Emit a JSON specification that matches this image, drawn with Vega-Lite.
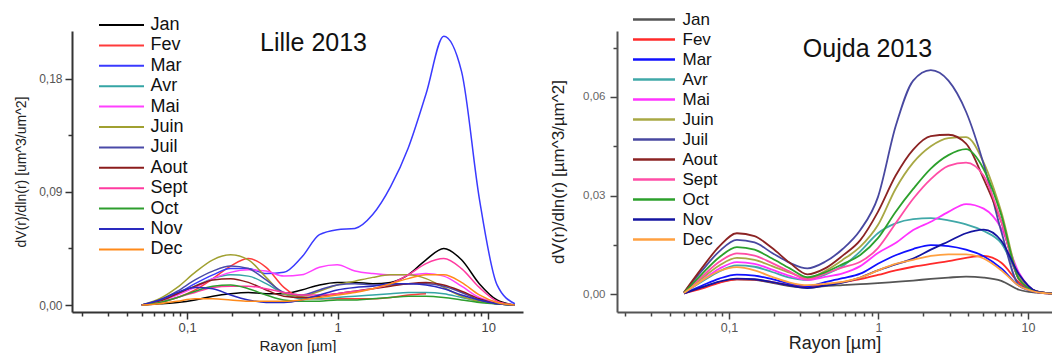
{
"$schema": "https://vega.github.io/schema/vega-lite/v6.json",
"background": "white",
"padding": {"left": 14, "top": 11, "right": 0, "bottom": 0},
"bounds": "flush",
"spacing": 94,
"config": {"view": {"stroke": null}, "font": "Liberation Sans"},
"resolve": {"scale": {"color": "independent"}, "legend": {"color": "independent"}},
"datasets": {
"lille": [
{"m":"Jan","r":0.05,"v":0},{"m":"Jan","r":0.0656,"v":0.001},{"m":"Jan","r":0.0861,"v":0.002},{"m":"Jan","r":0.1129,"v":0.004},{"m":"Jan","r":0.1482,"v":0.007},{"m":"Jan","r":0.1944,"v":0.009},{"m":"Jan","r":0.2551,"v":0.010},{"m":"Jan","r":0.3347,"v":0.009},{"m":"Jan","r":0.4392,"v":0.009},{"m":"Jan","r":0.5762,"v":0.012},{"m":"Jan","r":0.7561,"v":0.016},{"m":"Jan","r":0.992,"v":0.018},{"m":"Jan","r":1.3016,"v":0.018},{"m":"Jan","r":1.7078,"v":0.017},{"m":"Jan","r":2.2407,"v":0.018},{"m":"Jan","r":2.94,"v":0.024},{"m":"Jan","r":3.8575,"v":0.036},{"m":"Jan","r":5.0613,"v":0.045},{"m":"Jan","r":6.6407,"v":0.036},{"m":"Jan","r":8.7131,"v":0.017},{"m":"Jan","r":11.4323,"v":0.004},{"m":"Jan","r":15,"v":0},
{"m":"Fev","r":0.05,"v":0},{"m":"Fev","r":0.0656,"v":0.002},{"m":"Fev","r":0.0861,"v":0.006},{"m":"Fev","r":0.1129,"v":0.012},{"m":"Fev","r":0.1482,"v":0.021},{"m":"Fev","r":0.1944,"v":0.031},{"m":"Fev","r":0.2551,"v":0.037},{"m":"Fev","r":0.3347,"v":0.030},{"m":"Fev","r":0.4392,"v":0.014},{"m":"Fev","r":0.5762,"v":0.006},{"m":"Fev","r":0.7561,"v":0.005},{"m":"Fev","r":0.992,"v":0.005},{"m":"Fev","r":1.3016,"v":0.005},{"m":"Fev","r":1.7078,"v":0.005},{"m":"Fev","r":2.2407,"v":0.006},{"m":"Fev","r":2.94,"v":0.008},{"m":"Fev","r":3.8575,"v":0.009},
{"m":"Mar","r":0.05,"v":0},{"m":"Mar","r":0.0656,"v":0.003},{"m":"Mar","r":0.0861,"v":0.009},{"m":"Mar","r":0.1129,"v":0.017},{"m":"Mar","r":0.1482,"v":0.024},{"m":"Mar","r":0.1944,"v":0.029},{"m":"Mar","r":0.2551,"v":0.029},{"m":"Mar","r":0.3347,"v":0.025},{"m":"Mar","r":0.4392,"v":0.026},{"m":"Mar","r":0.5762,"v":0.038},{"m":"Mar","r":0.7561,"v":0.056},{"m":"Mar","r":0.992,"v":0.060},{"m":"Mar","r":1.3016,"v":0.061},{"m":"Mar","r":1.7078,"v":0.072},{"m":"Mar","r":2.2407,"v":0.094},{"m":"Mar","r":2.94,"v":0.125},{"m":"Mar","r":3.8575,"v":0.168},{"m":"Mar","r":5.0613,"v":0.214},{"m":"Mar","r":6.6407,"v":0.186},{"m":"Mar","r":8.7131,"v":0.085},{"m":"Mar","r":11.4323,"v":0.016},{"m":"Mar","r":15,"v":0.001},
{"m":"Avr","r":0.05,"v":0},{"m":"Avr","r":0.0656,"v":0.003},{"m":"Avr","r":0.0861,"v":0.009},{"m":"Avr","r":0.1129,"v":0.015},{"m":"Avr","r":0.1482,"v":0.021},{"m":"Avr","r":0.1944,"v":0.024},{"m":"Avr","r":0.2551,"v":0.023},{"m":"Avr","r":0.3347,"v":0.017},{"m":"Avr","r":0.4392,"v":0.009},{"m":"Avr","r":0.5762,"v":0.005},{"m":"Avr","r":0.7561,"v":0.005},{"m":"Avr","r":0.992,"v":0.006},{"m":"Avr","r":1.3016,"v":0.007},{"m":"Avr","r":1.7078,"v":0.008},{"m":"Avr","r":2.2407,"v":0.009},{"m":"Avr","r":2.94,"v":0.010},{"m":"Avr","r":3.8575,"v":0.010},{"m":"Avr","r":5.0613,"v":0.009},{"m":"Avr","r":6.6407,"v":0.006},{"m":"Avr","r":8.7131,"v":0.003},{"m":"Avr","r":11.4323,"v":0.001},{"m":"Avr","r":15,"v":0},
{"m":"Mai","r":0.05,"v":0},{"m":"Mai","r":0.0656,"v":0.003},{"m":"Mai","r":0.0861,"v":0.008},{"m":"Mai","r":0.1129,"v":0.014},{"m":"Mai","r":0.1482,"v":0.021},{"m":"Mai","r":0.1944,"v":0.026},{"m":"Mai","r":0.2551,"v":0.028},{"m":"Mai","r":0.3347,"v":0.027},{"m":"Mai","r":0.4392,"v":0.023},{"m":"Mai","r":0.5762,"v":0.024},{"m":"Mai","r":0.7561,"v":0.030},{"m":"Mai","r":0.992,"v":0.032},{"m":"Mai","r":1.3016,"v":0.027},{"m":"Mai","r":1.7078,"v":0.025},{"m":"Mai","r":2.2407,"v":0.024},{"m":"Mai","r":2.94,"v":0.024},{"m":"Mai","r":3.8575,"v":0.025},{"m":"Mai","r":5.0613,"v":0.023},{"m":"Mai","r":6.6407,"v":0.015},{"m":"Mai","r":8.7131,"v":0.006},{"m":"Mai","r":11.4323,"v":0.002},{"m":"Mai","r":15,"v":0},
{"m":"Juin","r":0.05,"v":0},{"m":"Juin","r":0.0656,"v":0.005},{"m":"Juin","r":0.0861,"v":0.014},{"m":"Juin","r":0.1129,"v":0.026},{"m":"Juin","r":0.1482,"v":0.036},{"m":"Juin","r":0.1944,"v":0.040},{"m":"Juin","r":0.2551,"v":0.036},{"m":"Juin","r":0.3347,"v":0.022},{"m":"Juin","r":0.4392,"v":0.009},{"m":"Juin","r":0.5762,"v":0.007},{"m":"Juin","r":0.7561,"v":0.011},{"m":"Juin","r":0.992,"v":0.016},{"m":"Juin","r":1.3016,"v":0.019},{"m":"Juin","r":1.7078,"v":0.022},{"m":"Juin","r":2.2407,"v":0.024},{"m":"Juin","r":2.94,"v":0.024},{"m":"Juin","r":3.8575,"v":0.021},{"m":"Juin","r":5.0613,"v":0.014},{"m":"Juin","r":6.6407,"v":0.007},{"m":"Juin","r":8.7131,"v":0.003},{"m":"Juin","r":11.4323,"v":0.001},{"m":"Juin","r":15,"v":0},
{"m":"Juil","r":0.05,"v":0},{"m":"Juil","r":0.0656,"v":0.004},{"m":"Juil","r":0.0861,"v":0.011},{"m":"Juil","r":0.1129,"v":0.020},{"m":"Juil","r":0.1482,"v":0.027},{"m":"Juil","r":0.1944,"v":0.031},{"m":"Juil","r":0.2551,"v":0.029},{"m":"Juil","r":0.3347,"v":0.020},{"m":"Juil","r":0.4392,"v":0.010},{"m":"Juil","r":0.5762,"v":0.008},{"m":"Juil","r":0.7561,"v":0.012},{"m":"Juil","r":0.992,"v":0.016},{"m":"Juil","r":1.3016,"v":0.017},{"m":"Juil","r":1.7078,"v":0.016},{"m":"Juil","r":2.2407,"v":0.016},{"m":"Juil","r":2.94,"v":0.017},{"m":"Juil","r":3.8575,"v":0.017},{"m":"Juil","r":5.0613,"v":0.015},{"m":"Juil","r":6.6407,"v":0.010},{"m":"Juil","r":8.7131,"v":0.004},{"m":"Juil","r":11.4323,"v":0.001},{"m":"Juil","r":15,"v":0},
{"m":"Aout","r":0.05,"v":0},{"m":"Aout","r":0.0656,"v":0.003},{"m":"Aout","r":0.0861,"v":0.009},{"m":"Aout","r":0.1129,"v":0.015},{"m":"Aout","r":0.1482,"v":0.020},{"m":"Aout","r":0.1944,"v":0.021},{"m":"Aout","r":0.2551,"v":0.018},{"m":"Aout","r":0.3347,"v":0.012},{"m":"Aout","r":0.4392,"v":0.007},{"m":"Aout","r":0.5762,"v":0.006},{"m":"Aout","r":0.7561,"v":0.007},{"m":"Aout","r":0.992,"v":0.009},{"m":"Aout","r":1.3016,"v":0.011},{"m":"Aout","r":1.7078,"v":0.013},{"m":"Aout","r":2.2407,"v":0.015},{"m":"Aout","r":2.94,"v":0.017},{"m":"Aout","r":3.8575,"v":0.018},{"m":"Aout","r":5.0613,"v":0.016},{"m":"Aout","r":6.6407,"v":0.011},{"m":"Aout","r":8.7131,"v":0.005},{"m":"Aout","r":11.4323,"v":0.001},{"m":"Aout","r":15,"v":0},
{"m":"Sept","r":0.05,"v":0},{"m":"Sept","r":0.0656,"v":0.002},{"m":"Sept","r":0.0861,"v":0.006},{"m":"Sept","r":0.1129,"v":0.010},{"m":"Sept","r":0.1482,"v":0.014},{"m":"Sept","r":0.1944,"v":0.015},{"m":"Sept","r":0.2551,"v":0.015},{"m":"Sept","r":0.3347,"v":0.013},{"m":"Sept","r":0.4392,"v":0.010},{"m":"Sept","r":0.5762,"v":0.008},{"m":"Sept","r":0.7561,"v":0.008},{"m":"Sept","r":0.992,"v":0.009},{"m":"Sept","r":1.3016,"v":0.011},{"m":"Sept","r":1.7078,"v":0.013},{"m":"Sept","r":2.2407,"v":0.017},{"m":"Sept","r":2.94,"v":0.024},{"m":"Sept","r":3.8575,"v":0.033},{"m":"Sept","r":5.0613,"v":0.037},{"m":"Sept","r":6.6407,"v":0.029},{"m":"Sept","r":8.7131,"v":0.014},{"m":"Sept","r":11.4323,"v":0.003},{"m":"Sept","r":15,"v":0},
{"m":"Oct","r":0.05,"v":0},{"m":"Oct","r":0.0656,"v":0.002},{"m":"Oct","r":0.0861,"v":0.006},{"m":"Oct","r":0.1129,"v":0.011},{"m":"Oct","r":0.1482,"v":0.015},{"m":"Oct","r":0.1944,"v":0.016},{"m":"Oct","r":0.2551,"v":0.013},{"m":"Oct","r":0.3347,"v":0.008},{"m":"Oct","r":0.4392,"v":0.004},{"m":"Oct","r":0.5762,"v":0.003},{"m":"Oct","r":0.7561,"v":0.003},{"m":"Oct","r":0.992,"v":0.004},{"m":"Oct","r":1.3016,"v":0.004},{"m":"Oct","r":1.7078,"v":0.005},{"m":"Oct","r":2.2407,"v":0.006},{"m":"Oct","r":2.94,"v":0.007},{"m":"Oct","r":3.8575,"v":0.007},{"m":"Oct","r":5.0613,"v":0.006},{"m":"Oct","r":6.6407,"v":0.004},{"m":"Oct","r":8.7131,"v":0.002},{"m":"Oct","r":11.4323,"v":0.001},{"m":"Oct","r":15,"v":0},
{"m":"Nov","r":0.05,"v":0},{"m":"Nov","r":0.0656,"v":0.004},{"m":"Nov","r":0.0861,"v":0.010},{"m":"Nov","r":0.1129,"v":0.014},{"m":"Nov","r":0.1482,"v":0.013},{"m":"Nov","r":0.1944,"v":0.008},{"m":"Nov","r":0.2551,"v":0.004},{"m":"Nov","r":0.3347,"v":0.002},{"m":"Nov","r":0.4392,"v":0.002},{"m":"Nov","r":0.5762,"v":0.004},{"m":"Nov","r":0.7561,"v":0.008},{"m":"Nov","r":0.992,"v":0.012},{"m":"Nov","r":1.3016,"v":0.014},{"m":"Nov","r":1.7078,"v":0.015},{"m":"Nov","r":2.2407,"v":0.017},{"m":"Nov","r":2.94,"v":0.017},{"m":"Nov","r":3.8575,"v":0.016},{"m":"Nov","r":5.0613,"v":0.013},{"m":"Nov","r":6.6407,"v":0.008},{"m":"Nov","r":8.7131,"v":0.004},{"m":"Nov","r":11.4323,"v":0.001},{"m":"Nov","r":15,"v":0},
{"m":"Dec","r":0.05,"v":0},{"m":"Dec","r":0.0656,"v":0.001},{"m":"Dec","r":0.0861,"v":0.003},{"m":"Dec","r":0.1129,"v":0.005},{"m":"Dec","r":0.1482,"v":0.005},{"m":"Dec","r":0.1944,"v":0.004},{"m":"Dec","r":0.2551,"v":0.003},{"m":"Dec","r":0.3347,"v":0.003},{"m":"Dec","r":0.4392,"v":0.003},{"m":"Dec","r":0.5762,"v":0.004},{"m":"Dec","r":0.7561,"v":0.006},{"m":"Dec","r":0.992,"v":0.008},{"m":"Dec","r":1.3016,"v":0.010},{"m":"Dec","r":1.7078,"v":0.013},{"m":"Dec","r":2.2407,"v":0.017},{"m":"Dec","r":2.94,"v":0.021},{"m":"Dec","r":3.8575,"v":0.024},{"m":"Dec","r":5.0613,"v":0.024},{"m":"Dec","r":6.6407,"v":0.018},{"m":"Dec","r":8.7131,"v":0.008},{"m":"Dec","r":11.4323,"v":0.002},{"m":"Dec","r":15,"v":0}
],
"oujda": [
{"m":"Jan","r":0.05,"v":0.0002},{"m":"Jan","r":0.0656,"v":0.002},{"m":"Jan","r":0.0861,"v":0.0036},{"m":"Jan","r":0.1129,"v":0.0045},{"m":"Jan","r":0.1482,"v":0.0043},{"m":"Jan","r":0.1944,"v":0.0034},{"m":"Jan","r":0.2551,"v":0.0024},{"m":"Jan","r":0.3347,"v":0.0019},{"m":"Jan","r":0.4392,"v":0.0024},{"m":"Jan","r":0.5762,"v":0.0027},{"m":"Jan","r":0.7561,"v":0.003},{"m":"Jan","r":0.992,"v":0.0033},{"m":"Jan","r":1.3016,"v":0.0037},{"m":"Jan","r":1.7078,"v":0.0041},{"m":"Jan","r":2.2407,"v":0.0046},{"m":"Jan","r":2.94,"v":0.005},{"m":"Jan","r":3.8575,"v":0.0053},{"m":"Jan","r":5.0613,"v":0.005},{"m":"Jan","r":6.6407,"v":0.004},{"m":"Jan","r":8.7131,"v":0.0013},{"m":"Jan","r":11.4323,"v":0.0004},{"m":"Jan","r":15,"v":0.0001},
{"m":"Fev","r":0.05,"v":0.0002},{"m":"Fev","r":0.0656,"v":0.0016},{"m":"Fev","r":0.0861,"v":0.0034},{"m":"Fev","r":0.1129,"v":0.0045},{"m":"Fev","r":0.1482,"v":0.0044},{"m":"Fev","r":0.1944,"v":0.0036},{"m":"Fev","r":0.2551,"v":0.0027},{"m":"Fev","r":0.3347,"v":0.0022},{"m":"Fev","r":0.4392,"v":0.0028},{"m":"Fev","r":0.5762,"v":0.0036},{"m":"Fev","r":0.7561,"v":0.0045},{"m":"Fev","r":0.992,"v":0.0058},{"m":"Fev","r":1.3016,"v":0.0072},{"m":"Fev","r":1.7078,"v":0.0083},{"m":"Fev","r":2.2407,"v":0.0092},{"m":"Fev","r":2.94,"v":0.01},{"m":"Fev","r":3.8575,"v":0.011},{"m":"Fev","r":5.0613,"v":0.0116},{"m":"Fev","r":6.6407,"v":0.0095},{"m":"Fev","r":8.7131,"v":0.0035},{"m":"Fev","r":11.4323,"v":0.0006},{"m":"Fev","r":15,"v":0.0001},
{"m":"Mar","r":0.05,"v":0.0002},{"m":"Mar","r":0.0656,"v":0.0025},{"m":"Mar","r":0.0861,"v":0.0047},{"m":"Mar","r":0.1129,"v":0.0059},{"m":"Mar","r":0.1482,"v":0.0056},{"m":"Mar","r":0.1944,"v":0.0045},{"m":"Mar","r":0.2551,"v":0.0032},{"m":"Mar","r":0.3347,"v":0.0024},{"m":"Mar","r":0.4392,"v":0.0036},{"m":"Mar","r":0.5762,"v":0.0048},{"m":"Mar","r":0.7561,"v":0.0062},{"m":"Mar","r":0.992,"v":0.0092},{"m":"Mar","r":1.3016,"v":0.0118},{"m":"Mar","r":1.7078,"v":0.0137},{"m":"Mar","r":2.2407,"v":0.0149},{"m":"Mar","r":2.94,"v":0.0146},{"m":"Mar","r":3.8575,"v":0.0135},{"m":"Mar","r":5.0613,"v":0.0115},{"m":"Mar","r":6.6407,"v":0.0078},{"m":"Mar","r":8.7131,"v":0.0025},{"m":"Mar","r":11.4323,"v":0.0006},{"m":"Mar","r":15,"v":0.0001},
{"m":"Avr","r":0.05,"v":0.0003},{"m":"Avr","r":0.0656,"v":0.0037},{"m":"Avr","r":0.0861,"v":0.0069},{"m":"Avr","r":0.1129,"v":0.0087},{"m":"Avr","r":0.1482,"v":0.0083},{"m":"Avr","r":0.1944,"v":0.0067},{"m":"Avr","r":0.2551,"v":0.005},{"m":"Avr","r":0.3347,"v":0.0043},{"m":"Avr","r":0.4392,"v":0.0059},{"m":"Avr","r":0.5762,"v":0.0085},{"m":"Avr","r":0.7561,"v":0.013},{"m":"Avr","r":0.992,"v":0.0185},{"m":"Avr","r":1.3016,"v":0.0215},{"m":"Avr","r":1.7078,"v":0.0228},{"m":"Avr","r":2.2407,"v":0.0231},{"m":"Avr","r":2.94,"v":0.0224},{"m":"Avr","r":3.8575,"v":0.0212},{"m":"Avr","r":5.0613,"v":0.0192},{"m":"Avr","r":6.6407,"v":0.0155},{"m":"Avr","r":8.7131,"v":0.0053},{"m":"Avr","r":11.4323,"v":0.0008},{"m":"Avr","r":15,"v":0.0001},
{"m":"Mai","r":0.05,"v":0.0003},{"m":"Mai","r":0.0656,"v":0.0041},{"m":"Mai","r":0.0861,"v":0.0077},{"m":"Mai","r":0.1129,"v":0.0097},{"m":"Mai","r":0.1482,"v":0.0092},{"m":"Mai","r":0.1944,"v":0.0074},{"m":"Mai","r":0.2551,"v":0.0055},{"m":"Mai","r":0.3347,"v":0.0043},{"m":"Mai","r":0.4392,"v":0.0052},{"m":"Mai","r":0.5762,"v":0.0063},{"m":"Mai","r":0.7561,"v":0.0085},{"m":"Mai","r":0.992,"v":0.0125},{"m":"Mai","r":1.3016,"v":0.0155},{"m":"Mai","r":1.7078,"v":0.0195},{"m":"Mai","r":2.2407,"v":0.022},{"m":"Mai","r":2.94,"v":0.025},{"m":"Mai","r":3.8575,"v":0.0274},{"m":"Mai","r":5.0613,"v":0.026},{"m":"Mai","r":6.6407,"v":0.02},{"m":"Mai","r":8.7131,"v":0.0065},{"m":"Mai","r":11.4323,"v":0.0008},{"m":"Mai","r":15,"v":0.0001},
{"m":"Juin","r":0.05,"v":0.0004},{"m":"Juin","r":0.0656,"v":0.0047},{"m":"Juin","r":0.0861,"v":0.0087},{"m":"Juin","r":0.1129,"v":0.011},{"m":"Juin","r":0.1482,"v":0.0104},{"m":"Juin","r":0.1944,"v":0.0085},{"m":"Juin","r":0.2551,"v":0.0065},{"m":"Juin","r":0.3347,"v":0.0048},{"m":"Juin","r":0.4392,"v":0.007},{"m":"Juin","r":0.5762,"v":0.0104},{"m":"Juin","r":0.7561,"v":0.0144},{"m":"Juin","r":0.992,"v":0.021},{"m":"Juin","r":1.3016,"v":0.032},{"m":"Juin","r":1.7078,"v":0.04},{"m":"Juin","r":2.2407,"v":0.045},{"m":"Juin","r":2.94,"v":0.0475},{"m":"Juin","r":3.8575,"v":0.0478},{"m":"Juin","r":5.0613,"v":0.04},{"m":"Juin","r":6.6407,"v":0.025},{"m":"Juin","r":8.7131,"v":0.0052},{"m":"Juin","r":11.4323,"v":0.0008},{"m":"Juin","r":15,"v":0.0001},
{"m":"Juil","r":0.05,"v":0.0005},{"m":"Juil","r":0.0656,"v":0.007},{"m":"Juil","r":0.0861,"v":0.013},{"m":"Juil","r":0.1129,"v":0.0165},{"m":"Juil","r":0.1482,"v":0.0157},{"m":"Juil","r":0.1944,"v":0.0125},{"m":"Juil","r":0.2551,"v":0.0095},{"m":"Juil","r":0.3347,"v":0.0078},{"m":"Juil","r":0.4392,"v":0.0098},{"m":"Juil","r":0.5762,"v":0.0137},{"m":"Juil","r":0.7561,"v":0.0195},{"m":"Juil","r":0.992,"v":0.0295},{"m":"Juil","r":1.3016,"v":0.051},{"m":"Juil","r":1.7078,"v":0.065},{"m":"Juil","r":2.2407,"v":0.0682},{"m":"Juil","r":2.94,"v":0.065},{"m":"Juil","r":3.8575,"v":0.0555},{"m":"Juil","r":5.0613,"v":0.0395},{"m":"Juil","r":6.6407,"v":0.019},{"m":"Juil","r":8.7131,"v":0.0028},{"m":"Juil","r":11.4323,"v":0.0008},{"m":"Juil","r":15,"v":0.0001},
{"m":"Aout","r":0.05,"v":0.0005},{"m":"Aout","r":0.0656,"v":0.0078},{"m":"Aout","r":0.0861,"v":0.0145},{"m":"Aout","r":0.1129,"v":0.0185},{"m":"Aout","r":0.1482,"v":0.0176},{"m":"Aout","r":0.1944,"v":0.014},{"m":"Aout","r":0.2551,"v":0.0095},{"m":"Aout","r":0.3347,"v":0.006},{"m":"Aout","r":0.4392,"v":0.0078},{"m":"Aout","r":0.5762,"v":0.0117},{"m":"Aout","r":0.7561,"v":0.0164},{"m":"Aout","r":0.992,"v":0.025},{"m":"Aout","r":1.3016,"v":0.036},{"m":"Aout","r":1.7078,"v":0.044},{"m":"Aout","r":2.2407,"v":0.0481},{"m":"Aout","r":2.94,"v":0.0485},{"m":"Aout","r":3.8575,"v":0.0458},{"m":"Aout","r":5.0613,"v":0.035},{"m":"Aout","r":6.6407,"v":0.022},{"m":"Aout","r":8.7131,"v":0.0045},{"m":"Aout","r":11.4323,"v":0.0008},{"m":"Aout","r":15,"v":0.0001},
{"m":"Sept","r":0.05,"v":0.0004},{"m":"Sept","r":0.0656,"v":0.0052},{"m":"Sept","r":0.0861,"v":0.0098},{"m":"Sept","r":0.1129,"v":0.0124},{"m":"Sept","r":0.1482,"v":0.0117},{"m":"Sept","r":0.1944,"v":0.0094},{"m":"Sept","r":0.2551,"v":0.0068},{"m":"Sept","r":0.3347,"v":0.0045},{"m":"Sept","r":0.4392,"v":0.0062},{"m":"Sept","r":0.5762,"v":0.0081},{"m":"Sept","r":0.7561,"v":0.0098},{"m":"Sept","r":0.992,"v":0.014},{"m":"Sept","r":1.3016,"v":0.0215},{"m":"Sept","r":1.7078,"v":0.029},{"m":"Sept","r":2.2407,"v":0.035},{"m":"Sept","r":2.94,"v":0.039},{"m":"Sept","r":3.8575,"v":0.04},{"m":"Sept","r":5.0613,"v":0.036},{"m":"Sept","r":6.6407,"v":0.022},{"m":"Sept","r":8.7131,"v":0.0045},{"m":"Sept","r":11.4323,"v":0.0008},{"m":"Sept","r":15,"v":0.0001},
{"m":"Oct","r":0.05,"v":0.0004},{"m":"Oct","r":0.0656,"v":0.006},{"m":"Oct","r":0.0861,"v":0.0112},{"m":"Oct","r":0.1129,"v":0.0143},{"m":"Oct","r":0.1482,"v":0.0135},{"m":"Oct","r":0.1944,"v":0.0108},{"m":"Oct","r":0.2551,"v":0.0078},{"m":"Oct","r":0.3347,"v":0.0051},{"m":"Oct","r":0.4392,"v":0.0066},{"m":"Oct","r":0.5762,"v":0.0091},{"m":"Oct","r":0.7561,"v":0.0119},{"m":"Oct","r":0.992,"v":0.017},{"m":"Oct","r":1.3016,"v":0.025},{"m":"Oct","r":1.7078,"v":0.032},{"m":"Oct","r":2.2407,"v":0.0382},{"m":"Oct","r":2.94,"v":0.0423},{"m":"Oct","r":3.8575,"v":0.0441},{"m":"Oct","r":5.0613,"v":0.038},{"m":"Oct","r":6.6407,"v":0.024},{"m":"Oct","r":8.7131,"v":0.0045},{"m":"Oct","r":11.4323,"v":0.0008},{"m":"Oct","r":15,"v":0.0001},
{"m":"Nov","r":0.05,"v":0.0002},{"m":"Nov","r":0.0656,"v":0.002},{"m":"Nov","r":0.0861,"v":0.0038},{"m":"Nov","r":0.1129,"v":0.0047},{"m":"Nov","r":0.1482,"v":0.0045},{"m":"Nov","r":0.1944,"v":0.0036},{"m":"Nov","r":0.2551,"v":0.0026},{"m":"Nov","r":0.3347,"v":0.0018},{"m":"Nov","r":0.4392,"v":0.0026},{"m":"Nov","r":0.5762,"v":0.0035},{"m":"Nov","r":0.7561,"v":0.005},{"m":"Nov","r":0.992,"v":0.0072},{"m":"Nov","r":1.3016,"v":0.009},{"m":"Nov","r":1.7078,"v":0.0108},{"m":"Nov","r":2.2407,"v":0.0135},{"m":"Nov","r":2.94,"v":0.016},{"m":"Nov","r":3.8575,"v":0.0185},{"m":"Nov","r":5.0613,"v":0.0196},{"m":"Nov","r":6.6407,"v":0.0162},{"m":"Nov","r":8.7131,"v":0.006},{"m":"Nov","r":11.4323,"v":0.0008},{"m":"Nov","r":15,"v":0.0001},
{"m":"Dec","r":0.05,"v":0.0003},{"m":"Dec","r":0.0656,"v":0.004},{"m":"Dec","r":0.0861,"v":0.007},{"m":"Dec","r":0.1129,"v":0.0082},{"m":"Dec","r":0.1482,"v":0.0072},{"m":"Dec","r":0.1944,"v":0.0052},{"m":"Dec","r":0.2551,"v":0.0035},{"m":"Dec","r":0.3347,"v":0.0027},{"m":"Dec","r":0.4392,"v":0.0031},{"m":"Dec","r":0.5762,"v":0.0037},{"m":"Dec","r":0.7561,"v":0.005},{"m":"Dec","r":0.992,"v":0.0072},{"m":"Dec","r":1.3016,"v":0.0092},{"m":"Dec","r":1.7078,"v":0.0104},{"m":"Dec","r":2.2407,"v":0.0116},{"m":"Dec","r":2.94,"v":0.0121},{"m":"Dec","r":3.8575,"v":0.0121},{"m":"Dec","r":5.0613,"v":0.0108},{"m":"Dec","r":6.6407,"v":0.0072},{"m":"Dec","r":8.7131,"v":0.0025},{"m":"Dec","r":11.4323,"v":0.0006},{"m":"Dec","r":15,"v":0.0001}
]
},
"hconcat": [
{
"width": 451, "height": 281,
"title": {"text": "Lille 2013", "frame": "group", "anchor": "middle", "baseline": "alphabetic", "offset": 0, "dx": 16, "dy": 60, "fontSize": 25, "fontWeight": "normal", "color": "#111"},
"data": {"name": "lille"},
"mark": {"type": "line", "interpolate": "monotone", "strokeWidth": 1.5, "clip": true},
"encoding": {
"x": {"field": "r", "type": "quantitative",
 "scale": {"type": "log", "domain": [0.0172, 17], "nice": false},
 "axis": {"values": [0.02,0.03,0.04,0.05,0.06,0.07,0.08,0.09,0.1,0.2,0.3,0.4,0.5,0.6,0.7,0.8,0.9,1,2,3,4,5,6,7,8,9,10],
  "labelExpr": "datum.value === 0.1 ? '0,1' : datum.value === 1 ? '1' : datum.value === 10 ? '10' : ''",
  "tickSize": {"condition": {"test": "datum.value === 0.1 || datum.value === 1 || datum.value === 10", "value": 7}, "value": 4},
  "grid": false, "labelOverlap": false, "labelFlush": false, "labelFontSize": 13, "labelColor": "#444", "labelPadding": 2,
  "domainColor": "#333", "domainWidth": 2, "tickColor": "#333", "tickWidth": 1.5,
  "title": "Rayon [µm]", "titleFontSize": 15, "titleFontWeight": "normal", "titleColor": "#222", "titlePadding": 4}},
"y": {"field": "v", "type": "quantitative",
 "scale": {"domain": [-0.00557, 0.2182], "nice": false, "zero": false},
 "axis": {"values": [0, 0.045, 0.09, 0.135, 0.18],
  "labelExpr": "indexof([0, 0.09, 0.18], datum.value) >= 0 ? replace(format(datum.value, '.2f'), '.', ',') : ''",
  "tickSize": {"condition": {"test": "indexof([0, 0.09, 0.18], datum.value) >= 0", "value": 7}, "value": 4},
  "grid": false, "labelOverlap": false, "labelFlush": false, "labelFontSize": 12, "labelColor": "#555", "labelPadding": 3,
  "domainColor": "#333", "domainWidth": 2, "tickColor": "#333", "tickWidth": 1.5,
  "title": "dV(r)/dln(r) [um^3/um^2]", "titleFontSize": 14, "titleFontWeight": "normal", "titleColor": "#222", "titlePadding": 10}},
"color": {"field": "m", "type": "nominal",
 "scale": {"domain": ["Jan","Fev","Mar","Avr","Mai","Juin","Juil","Aout","Sept","Oct","Nov","Dec"],
  "range": ["#000000","#ff3b3b","#3a3aff","#35a5a5","#ff40ff","#a0a030","#4a4aa8","#8b1c1c","#ff3ba0","#2e9e2e","#2a2abf","#ff8a1a"]},
 "legend": {"orient": "none", "legendX": 27, "legendY": -15, "direction": "vertical", "columns": 1, "title": null, "padding": 0,
  "symbolType": "M-4.5,0H4.5", "symbolSize": 100, "symbolStrokeWidth": 2, "symbolOffset": 13.5,
  "labelOffset": 20, "labelFontSize": 18, "labelColor": "#111", "labelFont": "Liberation Sans", "rowPadding": 2.4, "labelLimit": 0}}
}
},
{
"width": 435, "height": 281,
"title": {"text": "Oujda 2013", "frame": "group", "anchor": "middle", "baseline": "alphabetic", "offset": 0, "dx": 33, "dy": 71, "fontSize": 25, "fontWeight": "normal", "color": "#111"},
"data": {"name": "oujda"},
"mark": {"type": "line", "interpolate": "monotone", "strokeWidth": 1.8, "clip": true},
"encoding": {
"x": {"field": "r", "type": "quantitative",
 "scale": {"type": "log", "domain": [0.0178, 14.5], "nice": false},
 "axis": {"values": [0.02,0.03,0.04,0.05,0.06,0.07,0.08,0.09,0.1,0.2,0.3,0.4,0.5,0.6,0.7,0.8,0.9,1,2,3,4,5,6,7,8,9,10],
  "labelExpr": "datum.value === 0.1 ? '0,1' : datum.value === 1 ? '1' : datum.value === 10 ? '10' : ''",
  "tickSize": {"condition": {"test": "datum.value === 0.1 || datum.value === 1 || datum.value === 10", "value": 7}, "value": 4},
  "grid": false, "labelOverlap": false, "labelFlush": false, "labelFontSize": 12.5, "labelColor": "#555", "labelPadding": 2,
  "domainColor": "#555", "domainWidth": 2, "tickColor": "#444", "tickWidth": 1.5,
  "title": "Rayon [µm]", "titleFontSize": 18, "titleFontWeight": "normal", "titleColor": "#222", "titlePadding": 1}},
"y": {"field": "v", "type": "quantitative",
 "scale": {"domain": [-0.00548, 0.0801], "nice": false, "zero": false},
 "axis": {"values": [0, 0.015, 0.03, 0.045, 0.06, 0.075],
  "labelExpr": "indexof([0, 0.03, 0.06], datum.value) >= 0 ? replace(format(datum.value, '.2f'), '.', ',') : ''",
  "tickSize": {"condition": {"test": "indexof([0, 0.03, 0.06], datum.value) >= 0", "value": 7}, "value": 4},
  "grid": false, "labelOverlap": false, "labelFlush": false, "labelFontSize": 11.5, "labelColor": "#666", "labelPadding": 5,
  "domainColor": "#555", "domainWidth": 2, "tickColor": "#444", "tickWidth": 1.5,
  "title": "dV(r)/dln(r) [µm^3/µm^2]", "titleFontSize": 17, "titleFontWeight": "normal", "titleColor": "#222", "titlePadding": 15}},
"color": {"field": "m", "type": "nominal",
 "scale": {"domain": ["Jan","Fev","Mar","Avr","Mai","Juin","Juil","Aout","Sept","Oct","Nov","Dec"],
  "range": ["#555555","#ff2a2a","#1010ff","#40a8a8","#ff33ff","#a8a844","#4848a0","#8b2323","#ff4da6","#2ca02c","#1414a0","#ffa040"]},
 "legend": {"orient": "none", "legendX": 16, "legendY": -20, "direction": "vertical", "columns": 1, "title": null, "padding": 0,
  "symbolType": "M-4.2,0H4.2", "symbolSize": 100, "symbolStrokeWidth": 2.5, "symbolOffset": 12.5,
  "labelOffset": 20, "labelFontSize": 17, "labelColor": "#111", "labelFont": "Liberation Sans", "rowPadding": 2, "labelLimit": 0}}
}
}
]
}
